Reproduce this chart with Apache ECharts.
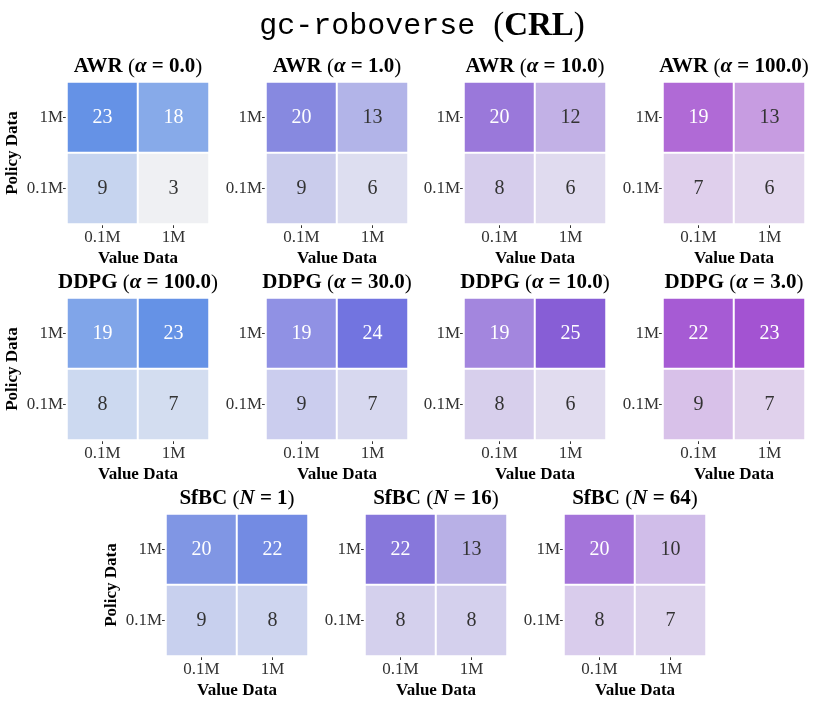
<!DOCTYPE html>
<html>
<head>
<meta charset="utf-8">
<script src="https://cdn.jsdelivr.net/npm/echarts@6/dist/echarts.min.js"></script>
<style>html,body{margin:0;padding:0;background:#fff;}#c{width:830px;height:704px;}</style>
</head>
<body>
<div id="c"></div>
<script>
// ---- data ----
const valueData = ['0.1M', '1M'];   // x categories
const policyData = ['0.1M', '1M'];  // y categories (bottom to top)
// each panel: [policy 1M row], [policy 0.1M row]; within row: [value 0.1M, value 1M]
const awr_a0 = [[23, 18], [9, 3]];
const awr_a1 = [[20, 13], [9, 6]];
const awr_a10 = [[20, 12], [8, 6]];
const awr_a100 = [[19, 13], [7, 6]];
const ddpg_a100 = [[19, 23], [8, 7]];
const ddpg_a30 = [[19, 24], [9, 7]];
const ddpg_a10 = [[19, 25], [8, 6]];
const ddpg_a3 = [[22, 23], [9, 7]];
const sfbc_n1 = [[20, 22], [9, 8]];
const sfbc_n16 = [[22, 13], [8, 8]];
const sfbc_n64 = [[20, 10], [8, 7]];
const panelValues = [awr_a0, awr_a1, awr_a10, awr_a100, ddpg_a100, ddpg_a30, ddpg_a10, ddpg_a3, sfbc_n1, sfbc_n16, sfbc_n64];
const methods = ['AWR', 'AWR', 'AWR', 'AWR', 'DDPG', 'DDPG', 'DDPG', 'DDPG', 'SfBC', 'SfBC', 'SfBC'];
const paramSymbols = ['α', 'α', 'α', 'α', 'α', 'α', 'α', 'α', 'N', 'N', 'N'];
const paramValues = ['0.0', '1.0', '10.0', '100.0', '100.0', '30.0', '10.0', '3.0', '1', '16', '64'];
const colorMin = 3, colorMax = 25;

// ---- styles / layout ----
const lightColor = '#eff0f3';
const darkColors = ['#5789e5', '#696bda', '#8155d3', '#9838cb',
                    '#5789e5', '#6c6edf', '#875ed6', '#9b43cf',
                    '#5f7be0', '#7664d7', '#8e50d3'];
const cellSize = 142;
const panelPos = [
  [67, 82], [266, 82], [464, 82], [663, 82],
  [67, 298], [266, 298], [464, 298], [663, 298],
  [166, 514], [365, 514], [564, 514]
];
const firstCol = [0, 4, 8];
const serif = 'Liberation Serif';
const textDark = '#333333';
const subSize = 21;

const grids = [], xAxes = [], yAxes = [], series = [], visualMaps = [];
const titles = [{
  text: '{m|gc-roboverse }{r|(}{b|CRL}{r|)}',
  left: 422, top: 26, padding: 0, textAlign: 'center', textVerticalAlign: 'middle',
  textStyle: {
    fontWeight: 'normal',
    rich: {
      m: { fontFamily: 'Liberation Mono', fontSize: 30, fontWeight: 'normal', color: '#000' },
      r: { fontFamily: serif, fontSize: 33, fontWeight: 'normal', color: '#000' },
      b: { fontFamily: serif, fontSize: 33, fontWeight: 'bold', color: '#000' }
    }
  }
}];

panelValues.forEach((vals, i) => {
  const [left, top] = panelPos[i];
  grids.push({ left: left, top: top, width: cellSize, height: cellSize, containLabel: false });
  xAxes.push({
    type: 'category', gridIndex: i, data: valueData, position: 'bottom',
    axisLine: { show: false },
    axisTick: { show: true, alignWithLabel: true, length: 4, lineStyle: { color: textDark } },
    axisLabel: { fontFamily: serif, fontSize: 17, color: textDark, margin: 5 },
    splitLine: { show: false }, splitArea: { show: false },
    name: 'Value Data', nameLocation: 'middle', nameGap: 26,
    nameTextStyle: { fontFamily: serif, fontSize: 17, fontWeight: 'bold', color: '#000' }
  });
  const y = {
    type: 'category', gridIndex: i, data: policyData,
    axisLine: { show: false },
    axisTick: { show: true, alignWithLabel: true, length: 4, lineStyle: { color: textDark } },
    axisLabel: { fontFamily: serif, fontSize: 17, color: textDark, margin: 4 },
    splitLine: { show: false }, splitArea: { show: false }
  };
  if (firstCol.includes(i)) {
    Object.assign(y, {
      name: 'Policy Data', nameLocation: 'middle', nameGap: 46,
      nameTextStyle: { fontFamily: serif, fontSize: 17, fontWeight: 'bold', color: '#000' }
    });
  }
  yAxes.push(y);

  const data = [];
  // vals[0] is policy 1M (y index 1), vals[1] is policy 0.1M (y index 0)
  vals.forEach((row, r) => {
    const yi = r === 0 ? 1 : 0;
    row.forEach((v, xi) => {
      data.push({
        value: [xi, yi, v],
        label: { color: v >= 15 ? '#ffffff' : textDark }
      });
    });
  });
  series.push({
    type: 'heatmap', xAxisIndex: i, yAxisIndex: i, data: data,
    label: { show: true, fontFamily: serif, fontSize: 20, formatter: p => String(p.value[2]) },
    itemStyle: { borderColor: '#ffffff', borderWidth: 2 },
    emphasis: { disabled: true }
  });
  visualMaps.push({
    type: 'continuous', show: false, seriesIndex: i, dimension: 2,
    min: colorMin, max: colorMax,
    inRange: { color: [lightColor, darkColors[i]] }
  });
  titles.push({
    text: '{b|' + methods[i] + ' }{r|(}{a|' + paramSymbols[i] + '}{b| = ' + paramValues[i] + '}{r|)}',
    left: left + cellSize / 2, top: top - 15, padding: 0,
    textAlign: 'center', textVerticalAlign: 'middle',
    textStyle: {
      fontWeight: 'normal',
      rich: {
        b: { fontFamily: serif, fontSize: subSize, fontWeight: 'bold', color: '#000' },
        r: { fontFamily: serif, fontSize: subSize, fontWeight: 'normal', color: '#000' },
        a: { fontFamily: serif, fontSize: subSize, fontWeight: 'bold', fontStyle: 'italic', color: '#000' }
      }
    }
  });
});

const chart = echarts.init(document.getElementById('c'), null, { renderer: 'canvas' });
chart.setOption({
  backgroundColor: '#ffffff',
  animation: false,
  title: titles,
  grid: grids,
  xAxis: xAxes,
  yAxis: yAxes,
  visualMap: visualMaps,
  series: series
});
</script>
</body>
</html>
